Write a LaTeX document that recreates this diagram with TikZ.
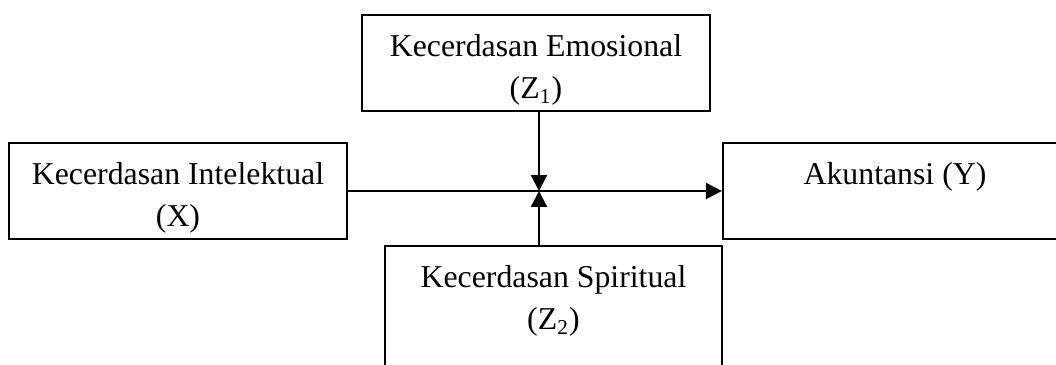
\documentclass[tikz,border=0pt]{standalone}
\usepackage{fontspec}
\setmainfont{Liberation Serif}
\usetikzlibrary{arrows.meta,positioning}
\tikzset{%
varbox/.style={draw,line width=0.9pt,inner sep=0pt},
caption/.style={font=\fontsize{12}{16.2}\selectfont,align=center,inner sep=0pt},
effect/.style={draw,line width=0.9pt,-{Triangle[length=6pt,width=6pt]}}
}

\begin{document}
\begin{tikzpicture}[x=0.3774pt,y=-0.3774pt]
\useasboundingbox (0,0) rectangle (1056,365);
\clip (0,0) rectangle (1056,365);

\node[varbox,minimum width=131.3pt,minimum height=36.2pt] (emosi)  at (536,63)    {};
\node[varbox,minimum width=127.6pt,minimum height=36.2pt] (intel)  at (178,191)   {};
\node[varbox,minimum width=129.8pt,minimum height=36.2pt] (akun)   at (895,191)   {};
\node[varbox,minimum width=127.2pt,minimum height=56.6pt] (spirit) at (553.5,321) {};

\node[caption,below=7.4pt of emosi.north]  (emositext)  {Kecerdasan Emosional\\(Z\textsubscript{1})};
\node[caption,below=7.4pt of intel.north]  (inteltext)  {Kecerdasan Intelektual\\(X)};
\node[caption,below=7.4pt of akun.north]   (akuntext)   {Akuntansi (Y)};
\node[caption,below=7.4pt of spirit.north] (spirittext) {Kecerdasan Spiritual\\(Z\textsubscript{2})};

% moderating arrows meet on the main path
\coordinate (meet) at (539,191);
\draw[effect] (intel.east) -- (akun.west);
\foreach \m in {emosi.south,spirit.north}
  \draw[effect] (\m -| meet) -- (meet);
\end{tikzpicture}
\end{document}
